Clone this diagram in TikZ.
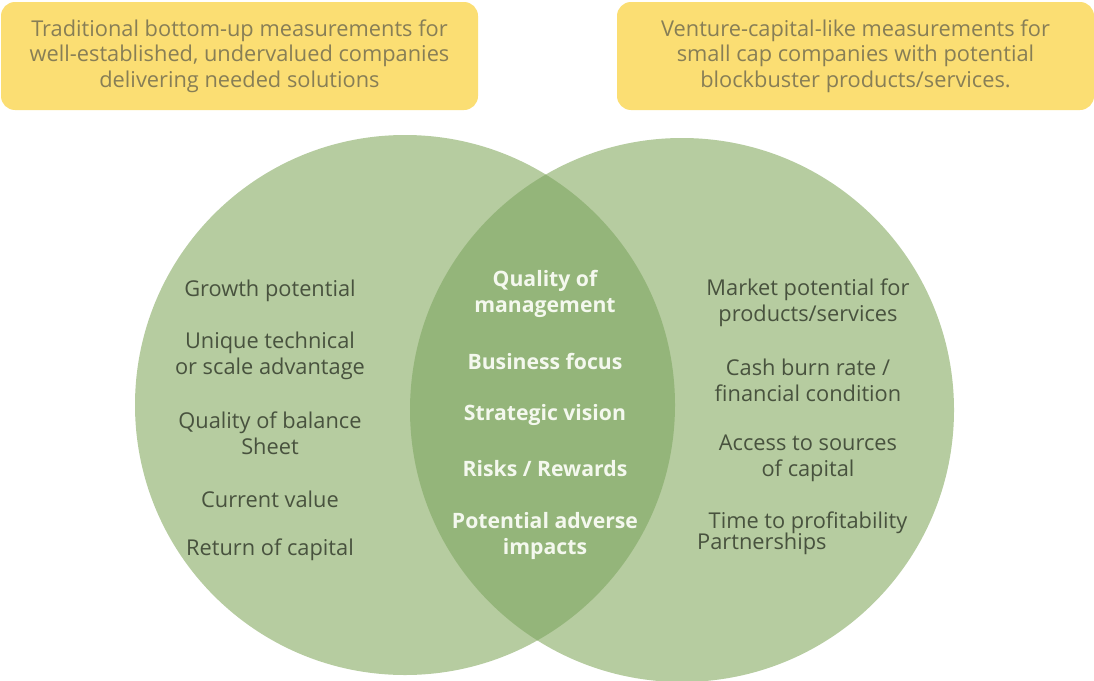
\documentclass[tikz,border=0pt]{standalone}
\usepackage{fontspec}
\setmainfont{Open Sans}
\usepackage{tikz}
\usetikzlibrary{calc}
\definecolor{leafgreen}{RGB}{182, 204, 160}
\definecolor{mossgreen}{RGB}{148, 181, 122}
\definecolor{sunyellow}{RGB}{251, 222, 115}
\definecolor{olivetext}{RGB}{135, 126, 86}
\definecolor{bodytext}{RGB}{72, 82, 62}
\definecolor{lenstext}{RGB}{244, 248, 238}

\tikzset{
    headbox/.style={fill=sunyellow, rounded corners=14pt, minimum width=477pt,
                    minimum height=108pt, inner sep=0pt, text=olivetext, align=center,
                    font=\fontsize{21.8}{25.5}\selectfont},
    sideitem/.style={text=bodytext, align=center, inner sep=0pt,
                     font=\fontsize{21.8}{25.5}\selectfont},
    lensitem/.style={text=lenstext, align=center, inner sep=0pt,
                     font=\bfseries\fontsize{21.2}{25.5}\selectfont}
}

\begin{document}
\begin{tikzpicture}[x=1pt, y=-1pt]
            % Frame to fix the page size
            \useasboundingbox                                    (0, 0) rectangle (1094, 680);
            % Circles & overlap
            \fill[leafgreen]                                     (405, 405) circle[radius=270pt];
            \fill[leafgreen]                                     (682, 410) circle[radius=272pt];
            \begin{scope}
                \clip                                            (405, 405) circle[radius=270pt];
                \fill[mossgreen]                                 (682, 410) circle[radius=272pt];
            \end{scope}
            % Headers
            \node[headbox] (oldschool) at (239.5, 56)  {Traditional bottom-up measurements for\\
                                                        well-established, undervalued companies\\
                                                        delivering needed solutions};
            \node[headbox] (venture)   at (855.5, 56)  {Venture-capital-like measurements for\\
                                                        small cap companies with potential\\
                                                        blockbuster products/services.};
            % Left circle
            \node[sideitem] (growth)   at (270, 291)   {Growth potential};
            \node[sideitem] (unique)   at (270, 356)   {Unique technical\\or scale advantage};
            \node[sideitem] (balance)  at (270, 433.5) {Quality of balance\\Sheet};
            \node[sideitem] (current)  at (270, 499)   {Current value};
            \node[sideitem] (return)   at (270, 550)   {Return of capital};
            % Overlap
            \node[lensitem] (mgmt)     at (545, 294)   {Quality of\\management};
            \node[lensitem] (focus)    at (545, 361)   {Business focus};
            \node[lensitem] (vision)   at (545, 415)   {Strategic vision};
            \node[lensitem] (risks)    at (545, 469)   {Risks / Rewards};
            \node[lensitem] (adverse)  at (545, 536)   {Potential adverse\\impacts};
            % Right circle
            \node[sideitem] (market)   at (808, 303)   {Market potential for\\products/services};
            \node[sideitem] (cashburn) at (808, 380.5) {Cash burn rate /\\financial condition};
            \node[sideitem] (access)   at (808, 458.5) {Access to sources\\of capital};
            \node[sideitem] (profit)   at (808, 523)   {Time to profitability};
            \node[sideitem, anchor=west] (partner) at (697, 544) {Partnerships};
        \end{tikzpicture}
\end{document}
